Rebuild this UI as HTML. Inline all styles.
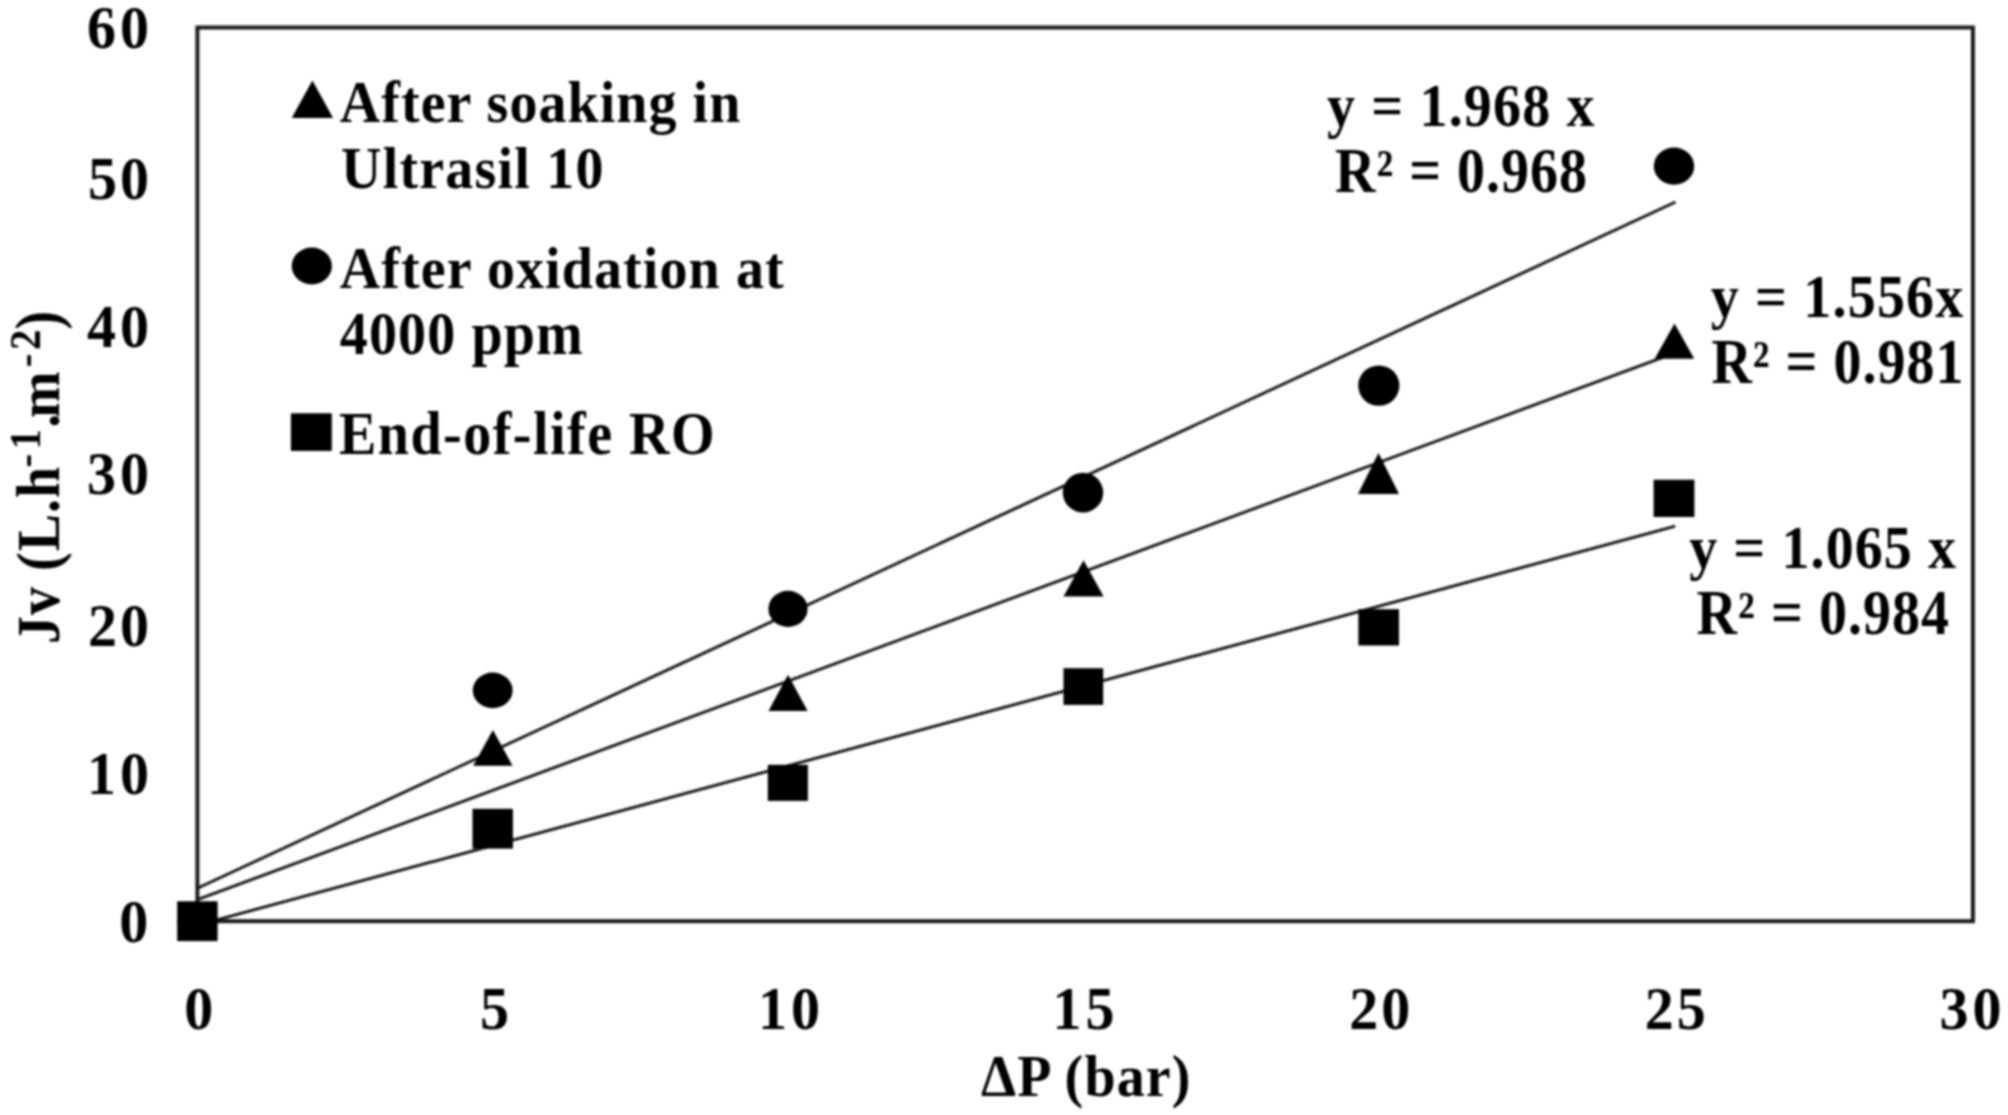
<!DOCTYPE html>
<html><head><meta charset="utf-8"><title>Jv vs ΔP</title>
<style>html,body{margin:0;padding:0;background:#fff;}svg{display:block;}</style></head>
<body><svg width="2008" height="1115" viewBox="0 0 2008 1115">
<defs><filter id="b" x="0" y="0" width="2008" height="1115" filterUnits="userSpaceOnUse"><feGaussianBlur stdDeviation="0.8"/></filter></defs>
<rect width="2008" height="1115" fill="#fff"/>
<g filter="url(#b)">
<rect x="197.4" y="27.5" width="1775.5" height="893.7" fill="none" stroke="#121212" stroke-width="3.9"/>
<line x1="197.4" y1="888.2" x2="1675.5" y2="202.0" stroke="#151515" stroke-width="2.9"/>
<line x1="197.4" y1="899.7" x2="1675.0" y2="352.8" stroke="#151515" stroke-width="2.9"/>
<line x1="197.4" y1="925.2" x2="1675.2" y2="526.2" stroke="#151515" stroke-width="2.9"/>
<g fill="#000">
<ellipse cx="197.4" cy="921.0" rx="20.0" ry="18.0"/>
<path d="M197.4 903.0L217.4 939.0L177.4 939.0Z"/>
<rect x="177.2" y="901.3" width="40.4" height="39.8"/>
<ellipse cx="492.7" cy="690.4" rx="19.9" ry="17.8"/>
<path d="M492.9 730.0L512.6 765.8L473.2 765.8Z"/>
<rect x="472.5" y="808.8" width="40.4" height="39.8"/>
<ellipse cx="788.0" cy="608.9" rx="19.6" ry="18.1"/>
<path d="M788.0 674.8L807.6 710.9L768.5 710.9Z"/>
<rect x="767.8" y="764.8" width="40.1" height="36.1"/>
<ellipse cx="1083.0" cy="492.6" rx="20.2" ry="19.8"/>
<path d="M1083.5 560.3L1103.6 596.4L1063.5 596.4Z"/>
<rect x="1063.5" y="668.2" width="39.7" height="36.7"/>
<ellipse cx="1378.8" cy="385.6" rx="20.6" ry="20.2"/>
<path d="M1378.5 453.0L1399.0 494.1L1358.0 494.1Z"/>
<rect x="1358.4" y="609.2" width="40.6" height="36.3"/>
<ellipse cx="1674.0" cy="166.1" rx="20.2" ry="18.6"/>
<path d="M1674.5 323.6L1694.2 358.7L1654.7 358.7Z"/>
<rect x="1653.6" y="479.7" width="40.8" height="37.3"/>
<path d="M312.4 80.6L333.1 117.9L291.7 117.9Z"/>
<ellipse cx="311.8" cy="266.0" rx="20.1" ry="18.4"/>
<rect x="290.9" y="413.3" width="40.9" height="37.6"/>
</g>
<g font-family="Liberation Serif, serif" font-weight="bold" fill="#000">
<text x="339.80" y="121.80" font-size="56" transform="matrix(1 0 0 1.0455 0 -5.542)" textLength="400.58" lengthAdjust="spacing">After soaking in</text>
<text x="341.00" y="188.00" font-size="56" transform="matrix(1 0 0 1.0749 0 -14.084)" textLength="262.42" lengthAdjust="spacing">Ultrasil 10</text>
<text x="339.80" y="288.20" font-size="56" transform="matrix(1 0 0 1.0500 0 -14.409)" textLength="443.94" lengthAdjust="spacing">After oxidation at</text>
<text x="339.80" y="354.20" font-size="56" transform="matrix(1 0 0 1.0864 0 -30.614)" textLength="242.84" lengthAdjust="spacing">4000 ppm</text>
<text x="338.90" y="453.80" font-size="56" transform="matrix(1 0 0 1.0825 0 -37.444)" textLength="375.72" lengthAdjust="spacing">End-of-life RO</text>
<text x="1326.90" y="125.60" font-size="56" transform="matrix(1 0 0 1.1002 0 -12.584)" textLength="267.62" lengthAdjust="spacing">y = 1.968 x</text>
<text x="1335.10" y="191.60" font-size="56" transform="matrix(1 0 0 1.1174 0 -22.502)" textLength="251.94" lengthAdjust="spacing">R² = 0.968</text>
<text x="1710.70" y="317.50" font-size="56" transform="matrix(1 0 0 1.1002 0 -31.811)" textLength="252.62" lengthAdjust="spacing">y = 1.556x</text>
<text x="1711.40" y="383.30" font-size="56" transform="matrix(1 0 0 1.1174 0 -45.015)" textLength="252.14" lengthAdjust="spacing">R² = 0.981</text>
<text x="1689.20" y="568.30" font-size="56" transform="matrix(1 0 0 1.1002 0 -56.940)" textLength="266.82" lengthAdjust="spacing">y = 1.065 x</text>
<text x="1696.60" y="634.00" font-size="56" transform="matrix(1 0 0 1.1174 0 -74.457)" textLength="252.44" lengthAdjust="spacing">R² = 0.984</text>
<text x="981.00" y="1096.00" font-size="56" transform="matrix(1 0 0 1.0598 0 -65.593)" textLength="209.43" lengthAdjust="spacing">ΔP (bar)</text>
<text x="87.00" y="47.60" font-size="58" transform="matrix(1 0 0 1.0736 0 -3.504)" textLength="62.00" lengthAdjust="spacing">60</text>
<text x="88.00" y="198.80" font-size="58" transform="matrix(1 0 0 1.0736 0 -14.636)" textLength="61.00" lengthAdjust="spacing">50</text>
<text x="87.00" y="347.00" font-size="58" transform="matrix(1 0 0 1.0736 0 -25.546)" textLength="62.00" lengthAdjust="spacing">40</text>
<text x="87.00" y="494.30" font-size="58" transform="matrix(1 0 0 1.0736 0 -36.390)" textLength="62.00" lengthAdjust="spacing">30</text>
<text x="88.00" y="645.80" font-size="58" transform="matrix(1 0 0 1.0736 0 -47.544)" textLength="61.00" lengthAdjust="spacing">20</text>
<text x="87.00" y="794.20" font-size="58" transform="matrix(1 0 0 1.0736 0 -58.469)" textLength="62.00" lengthAdjust="spacing">10</text>
<text x="119.25" y="941.80" font-size="58" transform="matrix(1 0 0 1.0736 0 -69.335)">0</text>
<text x="184.18" y="1029.30" font-size="58" transform="matrix(1 0 0 1.0736 0 -75.777)">0</text>
<text x="480.07" y="1029.30" font-size="58" transform="matrix(1 0 0 1.0736 0 -75.777)">5</text>
<text x="757.95" y="1029.30" font-size="58" transform="matrix(1 0 0 1.0736 0 -75.777)" textLength="62.00" lengthAdjust="spacing">10</text>
<text x="1052.45" y="1029.30" font-size="58" transform="matrix(1 0 0 1.0736 0 -75.777)" textLength="62.00" lengthAdjust="spacing">15</text>
<text x="1349.35" y="1029.30" font-size="58" transform="matrix(1 0 0 1.0736 0 -75.777)" textLength="61.00" lengthAdjust="spacing">20</text>
<text x="1644.65" y="1029.30" font-size="58" transform="matrix(1 0 0 1.0736 0 -75.777)" textLength="61.00" lengthAdjust="spacing">25</text>
<text x="1939.45" y="1029.30" font-size="58" transform="matrix(1 0 0 1.0736 0 -75.777)" textLength="62.00" lengthAdjust="spacing">30</text>
<g transform="translate(59,642) rotate(-90)">
<text x="-2.00" y="0.00" font-size="56" transform="matrix(1 0 0 1.0903 0 -0.000)" textLength="177.16" lengthAdjust="spacing">Jv (L.h</text>
<text x="174.50" y="-18.60" font-size="40.88" transform="matrix(1 0 0 1.1068 0 1.986)" textLength="38.56" lengthAdjust="spacing">-1</text>
<text x="214.20" y="0.00" font-size="56" transform="matrix(1 0 0 1.0579 0 -0.000)" textLength="56.46" lengthAdjust="spacing">.m</text>
<text x="274.70" y="-18.60" font-size="40.88" transform="matrix(1 0 0 1.1068 0 1.986)" textLength="37.76" lengthAdjust="spacing">-2</text>
<text x="312.40" y="0.00" font-size="56" transform="matrix(1 0 0 1.1174 0 -0.000)">)</text>
</g>
</g>
</g>
</svg></body></html>
